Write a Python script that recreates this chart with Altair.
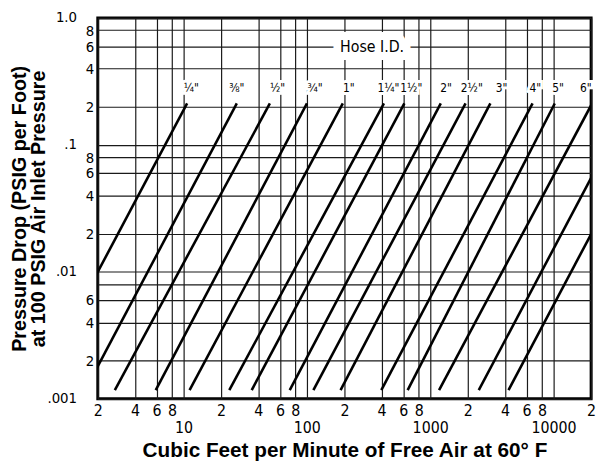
import json
import altair as alt
import pandas as pd

# ---- data ----
hose_sizes = ['¼"', '⅜"', '½"', '¾"', '1"', '1¼"', '1½"', '2"', '2½"', '3"', '4"', '5"', '6"']
line_ids = hose_sizes + ['8"', '10"']
cfm_low = [0.62, 1.58, 2.75, 5.9, 11.1, 23.3, 35.4, 72, 112, 186, 398, 651, 1170, 2455, 4277]
cfm_high = [10.6, 26.8, 49.7, 99.3, 194, 418, 612, 1208, 1919, 3048, 6702, 10140, 20370, 41700, 72700]
drop_low = 0.00117
drop_high = 0.212

label_cfm = [11.45, 26.8, 57.3, 115.7, 217, 455, 697, 1331, 2156, 3756, 7047, 10785, 18110]
label_drop = 0.28

hose_id_text = ["Hose I.D."]
hose_id_cfm = [335]
hose_id_drop = [0.585]

x_ticks = [2, 4, 6, 8, 10, 20, 40, 60, 80, 100, 200, 400, 600, 800, 1000,
           2000, 4000, 6000, 8000, 10000, 20000]
x_tick_text = ["2", "4", "6", "8", "", "2", "4", "6", "8", "", "2", "4", "6", "8", "",
               "2", "4", "6", "8", "", "2"]
decade_vals = [10, 100, 1000, 10000]
decade_text = ["10", "100", "1000", "10000"]

y_ticks = [0.001, 0.002, 0.004, 0.006, 0.008, 0.01, 0.02, 0.04, 0.06, 0.08,
           0.1, 0.2, 0.4, 0.6, 0.8, 1.0]
y_tick_text = ["", "2", "4", "6", "", "", "2", "4", "6", "8", "", "2", "4", "6", "8", ""]
y_major_vals = [1.0, 0.1, 0.01, 0.001]
y_major_text = ["1.0", ".1", ".01", ".001"]

# ---- tables ----
rows = []
for lid, lo, hi in zip(line_ids, cfm_low, cfm_high):
    rows.append({"hose": lid, "cfm": lo, "drop": drop_low})
    rows.append({"hose": lid, "cfm": hi, "drop": drop_high})
lines_df = pd.DataFrame(rows)
labels_df = pd.DataFrame({"hose": hose_sizes, "cfm": label_cfm, "drop": [label_drop] * len(hose_sizes)})
hoseid_df = pd.DataFrame({"t": hose_id_text, "cfm": hose_id_cfm, "drop": hose_id_drop})
decade_df = pd.DataFrame({"t": decade_text, "cfm": decade_vals})
ymajor_df = pd.DataFrame({"t": y_major_text, "drop": y_major_vals})

FONT = "Liberation Sans Narrow, Arial Narrow, DejaVu Sans Condensed, Roboto Condensed, Liberation Sans, Arial, sans-serif"
BOLD = "Liberation Sans, Arial, Helvetica, sans-serif"

x_scale = alt.Scale(type="log", domain=[2, 20000], nice=False)
y_scale = alt.Scale(type="log", domain=[0.001, 1.0], nice=False)

x_expr = f"{json.dumps(x_tick_text)}[indexof({json.dumps(x_ticks)}, datum.value)]"
y_expr = f"{json.dumps(y_tick_text)}[indexof({json.dumps(y_ticks)}, datum.value)]"

x_axis = alt.Axis(values=x_ticks, labelExpr=x_expr, grid=True, ticks=False, domain=False,
                  labelOverlap=False, labelFlush=False, labelFont=FONT, labelFontSize=16,
                  labelColor="black", labelPadding=4,
                  title="Cubic Feet per Minute of Free Air at 60° F",
                  titleFont=BOLD, titleFontSize=21, titleFontWeight="bold",
                  titleColor="black", titlePadding=21)
y_axis = alt.Axis(values=y_ticks, labelExpr=y_expr, grid=True, ticks=False, domain=False,
                  labelOverlap=False, labelFlush=False, labelFont=FONT, labelFontSize=15,
                  labelColor="black", labelPadding=4,
                  title=["Pressure Drop (PSIG per Foot)", "at 100 PSIG Air Inlet Pressure"],
                  titleFont=BOLD, titleFontSize=20, titleFontWeight="bold",
                  titleColor="black", titlePadding=37, titleLineHeight=20)

X = alt.X("cfm:Q", scale=x_scale, axis=x_axis)
Y = alt.Y("drop:Q", scale=y_scale, axis=y_axis)

lines = alt.Chart(lines_df).mark_line(clip=True, color="black", strokeWidth=2.6).encode(
    x=X, y=Y, detail="hose:N")

label_halo = alt.Chart(labels_df).mark_text(
    font=FONT, fontSize=12, color="white", stroke="white", strokeWidth=6,
    baseline="middle", align="center").encode(x=X, y=Y, text="hose:N")
label_text = alt.Chart(labels_df).mark_text(
    font=FONT, fontSize=12, color="black", baseline="middle", align="center").encode(
    x=X, y=Y, text="hose:N")

hid_halo = alt.Chart(hoseid_df).mark_text(
    font=FONT, fontSize=16, color="white", stroke="white", strokeWidth=16,
    baseline="middle", align="center").encode(x=X, y=Y, text="t:N")
hid_text = alt.Chart(hoseid_df).mark_text(
    font=FONT, fontSize=16, color="black", baseline="middle", align="center").encode(
    x=X, y=Y, text="t:N")

decades = alt.Chart(decade_df).mark_text(
    font=FONT, fontSize=16, color="black", baseline="middle", align="center").encode(
    x=X, y=alt.value(416), text="t:N")

ymajor = alt.Chart(ymajor_df).mark_text(
    font=FONT, fontSize=15, color="black", baseline="middle", align="right", dy=-1).encode(
    x=alt.value(-21), y=Y, text="t:N")

chart = alt.layer(lines, label_halo, label_text, hid_halo, hid_text, decades, ymajor).properties(
    width=500, height=386,
    autosize=alt.AutoSizeParams(type="none"),
    padding={"left": 91, "top": 7, "right": 9, "bottom": 62},
).configure_view(stroke="black", strokeWidth=3).configure_axis(
    gridColor="#1a1a1a", gridWidth=1.2, gridOpacity=1)

chart.save("out.html", embed_options={"renderer": "svg", "actions": False})
